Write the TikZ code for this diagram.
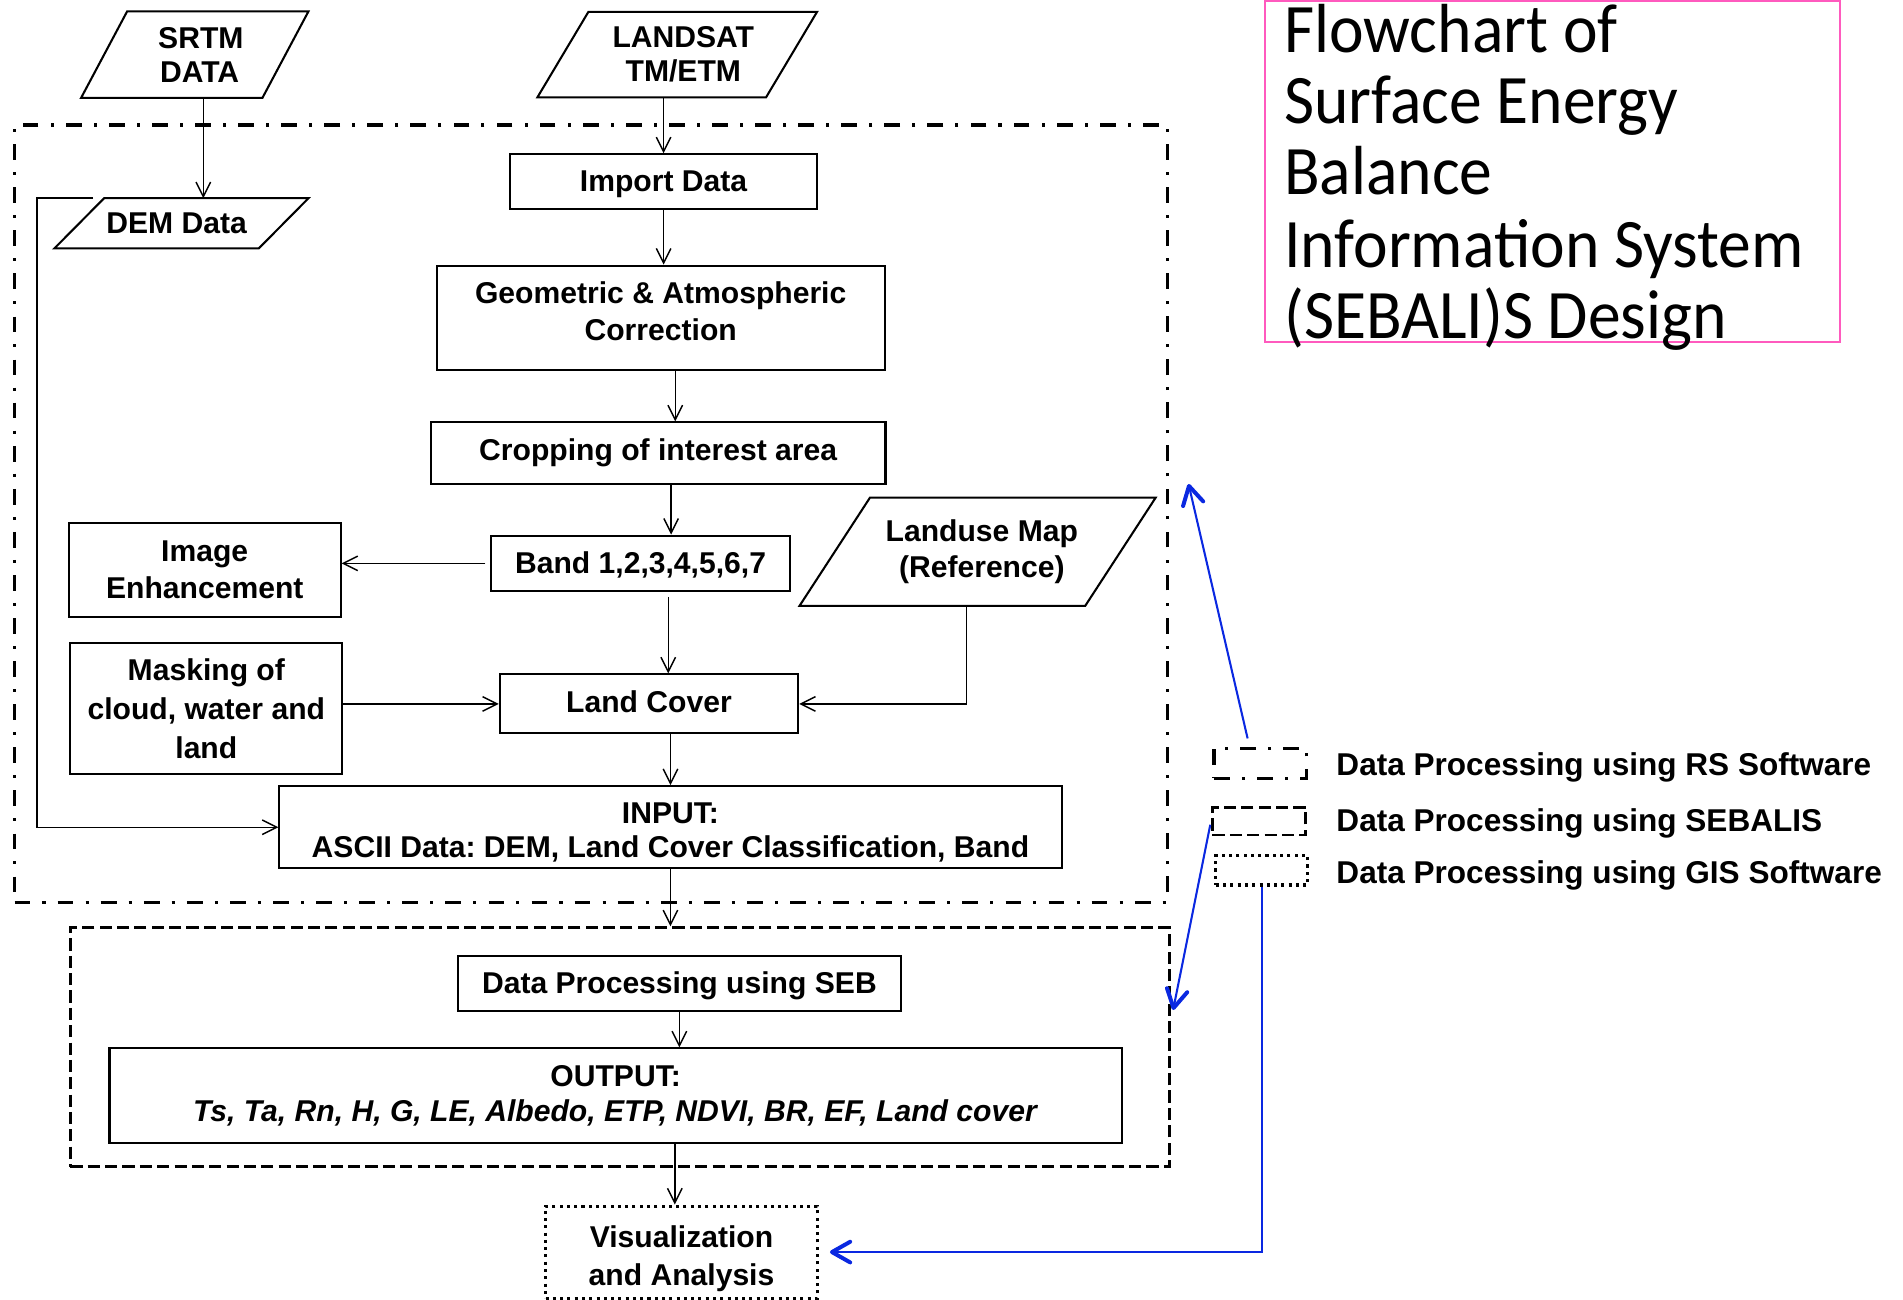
\documentclass[tikz,border=0pt]{standalone}
\usepackage{fontspec}
\setmainfont{Liberation Sans}
\newfontfamily\titlefont{Carlito}
\usetikzlibrary{arrows.meta,calc}

\definecolor{linkblue}{RGB}{10,40,225}
\definecolor{titlepink}{RGB}{255,90,190}

% box lettering: bold sans, size fixed, line distance given
\newcommand\bxf[1]{\fontsize{24.8}{#1}\selectfont\bfseries\frenchspacing}
% outline of a slanted data box around a node
\newcommand\parashape[2]{%
  \draw[line width=1.7pt] (#1.south west) -- ([xshift=#2]#1.north west)
    -- (#1.north east) -- ([xshift=-#2]#1.south east) -- cycle;}
% one line of the heading
\newcommand\headline[1]{\scalebox{1}[1.06]{#1}}

\begin{document}
\begin{tikzpicture}[x=1pt,y=-1pt,
  stepbox/.style={draw, line width=1.7pt, align=center, inner sep=0pt, font={\bxf{30}}},
  databox/.style={align=center, inner sep=0pt, font={\bxf{30}}},
  rsframe/.style={draw, line width=2.7pt, dash pattern=on 13pt off 10pt on 2.5pt off 10pt},
  sebframe/.style={draw, line width=2.4pt, dash pattern=on 10pt off 4.3pt},
  gisframe/.style={draw, line width=2.5pt, dash pattern=on 2.5pt off 3.5pt},
  flow/.style={line width=1.2pt, -{Straight Barb[length=12pt,width=12pt]}},
  link/.style={draw=linkblue, line width=1.7pt,
    -{Straight Barb[length=15pt,width=17pt,line width=3.3pt,round]}},
  legendtext/.style={anchor=west, inner sep=0pt, font=\fontsize{26}{30}\selectfont\bfseries}
]
\useasboundingbox (0,0) rectangle (1568,1071);

% ---------- group frames ----------
\node[rsframe, minimum width=949.7pt, minimum height=640.8pt] (rsbox) at (486.85,423.4) {};
\node[sebframe, minimum width=905.3pt, minimum height=196.9pt] (sebbox) at (510.65,862.85) {};

% ---------- sources ----------
\node[databox, minimum width=187pt, minimum height=71pt, font={\bxf{28}}] (srtm) at (160.5,45) {\hspace*{10pt}SRTM\\\hspace*{8pt}DATA};
\parashape{srtm}{38pt}
\node[databox, minimum width=230pt, minimum height=70pt, font={\bxf{28}}] (landsat) at (558,45) {\hspace*{10pt}LANDSAT\\\hspace*{10pt}TM/ETM};
\parashape{landsat}{42pt}
\node[databox, minimum width=209pt, minimum height=41pt] (dem) at (149.5,184) {\hspace*{-8pt}DEM Data};
\parashape{dem}{41pt}
\coordinate (demcorner) at ([xshift=32pt]dem.north west);
\node[databox, minimum width=293pt, minimum height=88.7pt] (landuse) at (805.5,454.6) {\hspace*{7pt}Landuse Map\\\hspace*{7pt}(Reference)};
\parashape{landuse}{58pt}

% ---------- processing steps ----------
\node[stepbox, minimum width=252.5pt, minimum height=45pt, text height=17.8pt, text depth=1.4pt] (import) at (546.75,149.7) {Import Data};
\node[stepbox, minimum width=369.2pt, minimum height=86pt, font={\bxf{31}}, text height=40pt, text depth=2pt] (geo) at (544.4,261.9) {Geometric \& Atmospheric\\Correction};
\node[stepbox, minimum width=374.6pt, minimum height=50.8pt] (crop) at (542.3,373.4) {Cropping of interest area};
\node[stepbox, minimum width=246pt, minimum height=45.6pt, text height=17.8pt, text depth=0.4pt] (band) at (527.8,464.2) {Band 1,2,3,4,5,6,7};
\node[stepbox, minimum width=223.8pt, minimum height=76.8pt] (img) at (168.7,469.6) {Image\\Enhancement};
\node[stepbox, minimum width=223.9pt, minimum height=107.8pt, font={\bxf{32}}] (mask) at (170,583.9) {Masking of\\cloud, water and\\land};
\node[stepbox, minimum width=245.9pt, minimum height=48.6pt, text height=17.8pt, text depth=4pt] (lc) at (534.75,580) {Land Cover};
\node[stepbox, minimum width=644.5pt, minimum height=67.8pt, font={\bxf{27.5}}, text height=50pt, text depth=0.4pt] (input) at (552.45,681.6) {INPUT:\\ASCII Data: DEM, Land Cover Classification, Band};
\node[stepbox, minimum width=365.6pt, minimum height=45.3pt, text height=17.8pt, text depth=0.7pt] (seb) at (559.8,810.35) {Data Processing using SEB};
\node[stepbox, minimum width=834.1pt, minimum height=78.3pt, font={\bxf{29}}] (output) at (507.25,902.95) {OUTPUT:\\\textit{Ts, Ta, Rn, H, G, LE, Albedo, ETP, NDVI, BR, EF, Land cover}};
\node[gisframe, align=center, inner sep=0pt, font={\bxf{31.5}}, minimum width=224.1pt, minimum height=75.9pt, text height=55pt, text depth=0.3pt] (vis) at (561.55,1031.65) {Visualization\\and Analysis};

% ---------- flow connectors ----------
\draw[flow] ([xshift=7pt]srtm.south) -- ([xshift=7pt]srtm.south |- dem.north);
\draw[flow] (landsat.south -| import.north) -- (import.north);
\draw[flow] (import.south) -- (import.south |- geo.north);
\draw[flow] ([xshift=12pt]geo.south) -- ([xshift=12pt]geo.south |- crop.north);
\draw[flow] ([xshift=10.7pt]crop.south) -- ([xshift=10.7pt]crop.south |- band.north);
\draw[flow] ([xshift=-4pt]band.west) -- (band.west -| img.east);
\draw[flow] ([xshift=22.8pt,yshift=-4pt]band.south) -- ([xshift=22.8pt]band.south |- lc.north);
\draw[flow] ([xshift=-9pt]landuse.south) |- (lc.east);
\draw[flow] (mask.east |- lc.west) -- (lc.west);
\draw[flow] ([xshift=17.7pt]lc.south) -- ([xshift=17.7pt]lc.south |- input.north);
\draw[flow] (demcorner) -- ++(-46.5pt,0) |- (input.west);
\draw[flow] (input.south) -- (input.south |- sebbox.north);
\draw[flow] (seb.south) -- (seb.south |- output.north);
\draw[flow] ([xshift=-5.5pt]vis.north |- output.south) -- ([xshift=-5.5pt]vis.north);

% ---------- legend ----------
\node[rsframe, minimum width=75.9pt, minimum height=24.8pt] (lrs) at (1038.25,629) {};
\node[sebframe, minimum width=77pt, minimum height=22.8pt] (lseb) at (1037.5,676.6) {};
\node[gisframe, minimum width=75.6pt, minimum height=24.2pt] (lgis) at (1039.6,717.1) {};
\node[legendtext] (ltrs) at (1101,632) {Data Processing using RS Software};
\node[legendtext] (ltseb) at (1101,678.5) {Data Processing using SEBALIS};
\node[legendtext] (ltgis) at (1101,721) {Data Processing using GIS Software};

% ---------- legend pointers ----------
\coordinate (rstip) at (979.3,398.8);
\coordinate (sebtip) at (966.6,832.2);
\draw[link, shorten <=7pt] ([xshift=-8.7pt]lrs.north) -- (rstip);
\draw[link, shorten <=3pt] (lseb.west) -- (sebtip);
\draw[link, shorten >=9pt] (lgis.south) |- (vis.east);

% ---------- heading ----------
\node[draw=titlepink, line width=1.6pt, minimum width=474.2pt, minimum height=280.7pt, inner sep=0pt] (titlebox) at (1279.1,141.15) {};
\begin{scope}[every node/.style={anchor=base west, inner sep=0pt, font=\titlefont\fontsize{54}{58}\selectfont}]
\node (head1) at (1058,43) {\headline{Flowchart of}};
\node (head2) at (1058,101.5) {\headline{Surface Energy}};
\node (head3) at (1058,160.5) {\headline{Balance}};
\node (head4) at (1058,220) {\headline{Information System}};
\node (head5) at (1058,278.5) {\headline{(SEBALI)S Design}};
\end{scope}
\end{tikzpicture}
\end{document}
